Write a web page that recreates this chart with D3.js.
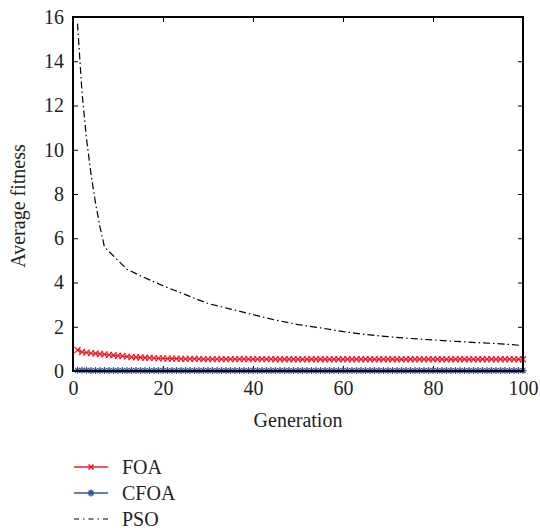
<!DOCTYPE html>
<html>
<head>
<meta charset="utf-8">
<script src="https://cdn.jsdelivr.net/npm/d3@7"></script>
<style>
  body { margin: 0; background: #fff; }
  svg text { font-family: "Liberation Serif", "DejaVu Serif", serif; fill: #231f20; }
</style>
</head>
<body>
<svg id="chart"></svg>
<script>
// generations 1..100 (x index for FOA / CFOA)
const generations = d3.range(1, 101);

const foaValues = [
  0.95, 0.86, 0.83, 0.81, 0.79, 0.77, 0.75, 0.73, 0.71, 0.69,
  0.67, 0.65, 0.63, 0.62, 0.61, 0.60, 0.59, 0.58, 0.57, 0.57,
  0.56, 0.56, 0.56, 0.55, 0.55, 0.55, 0.55, 0.55, 0.54, 0.54,
  0.54, 0.54, 0.54, 0.54, 0.54, 0.54, 0.54, 0.54, 0.54, 0.54,
  0.54, 0.54, 0.54, 0.54, 0.53, 0.53, 0.53, 0.53, 0.53, 0.53,
  0.53, 0.53, 0.53, 0.53, 0.53, 0.53, 0.53, 0.53, 0.53, 0.53,
  0.53, 0.53, 0.53, 0.53, 0.53, 0.53, 0.53, 0.53, 0.53, 0.53,
  0.53, 0.53, 0.53, 0.53, 0.53, 0.53, 0.53, 0.53, 0.53, 0.53,
  0.53, 0.53, 0.53, 0.53, 0.53, 0.53, 0.53, 0.53, 0.53, 0.53,
  0.53, 0.53, 0.53, 0.53, 0.53, 0.53, 0.53, 0.53, 0.53, 0.53
];

const cfoaValues = [
  0.03, 0.03, 0.03, 0.02, 0.02, 0.02, 0.02, 0.02, 0.02, 0.02,
  0.02, 0.02, 0.02, 0.02, 0.02, 0.02, 0.02, 0.02, 0.02, 0.02,
  0.02, 0.02, 0.02, 0.02, 0.02, 0.02, 0.02, 0.02, 0.02, 0.02,
  0.02, 0.02, 0.02, 0.02, 0.02, 0.02, 0.02, 0.02, 0.02, 0.02,
  0.02, 0.02, 0.02, 0.02, 0.02, 0.02, 0.02, 0.02, 0.02, 0.02,
  0.02, 0.02, 0.02, 0.02, 0.02, 0.02, 0.02, 0.02, 0.02, 0.02,
  0.02, 0.02, 0.02, 0.02, 0.02, 0.02, 0.02, 0.02, 0.02, 0.02,
  0.02, 0.02, 0.02, 0.02, 0.02, 0.02, 0.02, 0.02, 0.02, 0.02,
  0.02, 0.02, 0.02, 0.02, 0.02, 0.02, 0.02, 0.02, 0.02, 0.02,
  0.02, 0.02, 0.02, 0.02, 0.02, 0.02, 0.02, 0.02, 0.02, 0.02
];

// PSO read at selected generations
const psoGenerations = [1, 2, 3, 4, 5, 6, 7, 8, 10, 12, 15, 20, 25, 30, 35, 40, 45, 50, 55, 60, 65, 70, 75, 80, 85, 90, 95, 100];
const psoValues = [15.7, 12.6, 10.5, 8.9, 7.6, 6.5, 5.6, 5.4, 5.0, 4.6, 4.3, 3.85, 3.45, 3.05, 2.8, 2.55, 2.3, 2.1, 1.95, 1.78, 1.65, 1.55, 1.47, 1.4, 1.34, 1.28, 1.23, 1.15];

const xTicks = [0, 20, 40, 60, 80, 100];
const yTicks = [0, 2, 4, 6, 8, 10, 12, 14, 16];
const seriesNames = ["FOA", "CFOA", "PSO"];

const config = {
  width: 540, height: 532,
  margin: { top: 17, left: 73, right: 17, bottom: 161 }
};
const innerW = config.width - config.margin.left - config.margin.right;
const innerH = config.height - config.margin.top - config.margin.bottom;

const red = "#ee1c25";
const blue = "#3553a8";
const fontSize = "20px";

const svg = d3.select("#chart")
  .attr("width", config.width)
  .attr("height", config.height);

const chart = svg.append("g")
  .attr("transform", `translate(${config.margin.left},${config.margin.top})`);

const xScale = d3.scaleLinear().domain([0, 100]).range([0, innerW]);
const yScale = d3.scaleLinear().domain([0, 16]).range([innerH, 0]);

// axes with inward ticks
const tickLen = 5;
chart.append("g")
  .attr("transform", `translate(0,${innerH})`)
  .call(d3.axisBottom(xScale).tickValues(xTicks).tickSize(-tickLen).tickPadding(10))
  .call(g => g.select(".domain").remove())
  .selectAll("text").style("font-size", fontSize);
chart.append("g")
  .call(d3.axisTop(xScale).tickValues(xTicks).tickSize(-tickLen).tickFormat(""))
  .call(g => g.select(".domain").remove());
chart.append("g")
  .call(d3.axisLeft(yScale).tickValues(yTicks).tickSize(-tickLen).tickPadding(9))
  .call(g => g.select(".domain").remove())
  .selectAll("text").style("font-size", fontSize);
chart.append("g")
  .attr("transform", `translate(${innerW},0)`)
  .call(d3.axisRight(yScale).tickValues(yTicks).tickSize(-tickLen).tickFormat(""))
  .call(g => g.select(".domain").remove());
chart.selectAll(".tick line").attr("stroke", "#000").attr("stroke-width", 1);

// data lines
const foa = generations.map((g, i) => ({ x: g, y: foaValues[i] }));
const cfoa = generations.map((g, i) => ({ x: g, y: cfoaValues[i] }));
const pso = psoGenerations.map((g, i) => ({ x: g, y: psoValues[i] }));

const line = d3.line().x(d => xScale(d.x)).y(d => yScale(d.y));

chart.append("path").datum(pso)
  .attr("fill", "none").attr("stroke", "#000").attr("stroke-width", 1.2)
  .attr("stroke-dasharray", "7,3,1.5,3")
  .attr("d", line);

const crossPath = s => `M${-s},${-s}L${s},${s}M${-s},${s}L${s},${-s}`;
const starPath = s => `M${-s},0L${s},0M0,${-s}L0,${s}M${-s*0.7},${-s*0.7}L${s*0.7},${s*0.7}M${-s*0.7},${s*0.7}L${s*0.7},${-s*0.7}`;

chart.append("path").datum(foa)
  .attr("fill", "none").attr("stroke", red).attr("stroke-width", 1.2)
  .attr("d", line);
chart.selectAll(".foa-mark").data(foa).join("path")
  .attr("class", "foa-mark")
  .attr("transform", d => `translate(${xScale(d.x)},${yScale(d.y)})`)
  .attr("d", crossPath(3))
  .attr("stroke", red).attr("stroke-width", 1.2).attr("fill", "none");

chart.append("path").datum(cfoa)
  .attr("fill", "none").attr("stroke", blue).attr("stroke-width", 1.2)
  .attr("d", line);
chart.selectAll(".cfoa-mark").data(cfoa).join("path")
  .attr("class", "cfoa-mark")
  .attr("transform", d => `translate(${xScale(d.x)},${yScale(d.y)})`)
  .attr("d", starPath(3.5))
  .attr("stroke", blue).attr("stroke-width", 1.2).attr("fill", "none");

// frame
chart.append("rect")
  .attr("width", innerW).attr("height", innerH)
  .attr("fill", "none").attr("stroke", "#000").attr("stroke-width", 2);

// axis labels
svg.append("text")
  .attr("x", config.margin.left + innerW / 2)
  .attr("y", 427)
  .attr("text-anchor", "middle")
  .style("font-size", fontSize)
  .text("Generation");

svg.append("text")
  .attr("transform", `translate(25,${config.margin.top + innerH / 2 + 12}) rotate(-90)`)
  .attr("text-anchor", "middle")
  .style("font-size", fontSize)
  .text("Average fitness");

// legend
const legend = svg.append("g").attr("transform", "translate(74,467)");
const legItems = legend.selectAll("g").data(seriesNames).join("g")
  .attr("transform", (d, i) => `translate(0,${i * 26})`);
legItems.append("line")
  .attr("x1", 0).attr("x2", 34).attr("y1", 0).attr("y2", 0)
  .attr("stroke", (d, i) => [red, blue, "#000"][i])
  .attr("stroke-width", (d, i) => i === 2 ? 1.2 : 1.5)
  .attr("stroke-dasharray", (d, i) => i === 2 ? "5,4,1.5,4" : null);
legItems.filter((d, i) => i < 2).append("path")
  .attr("transform", "translate(17,0)")
  .attr("d", (d, i) => i === 0 ? crossPath(2.5) : starPath(3.5))
  .attr("stroke", (d, i) => [red, blue][i])
  .attr("stroke-width", 1.5).attr("fill", "none");
legItems.append("text")
  .attr("x", 48).attr("y", 0).attr("dy", "0.35em")
  .style("font-size", fontSize)
  .text(d => d);
</script>
</body>
</html>
